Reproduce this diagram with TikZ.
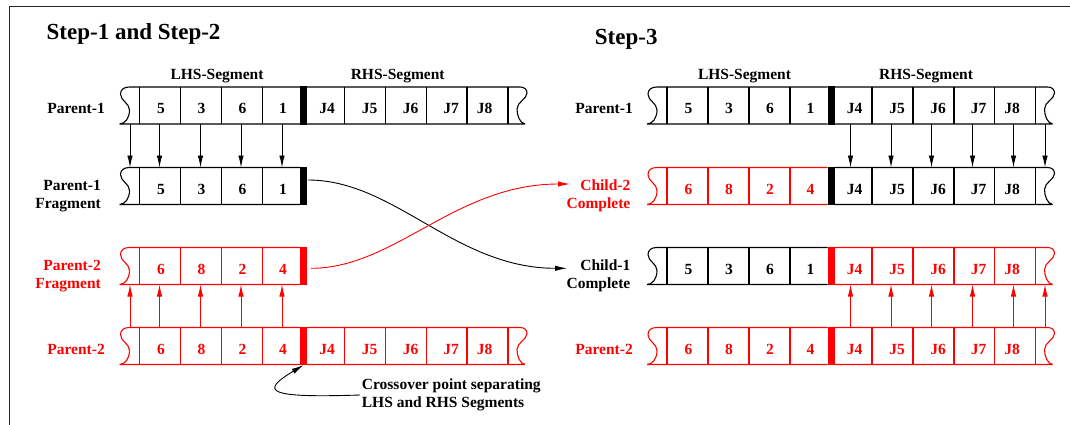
\documentclass[tikz,border=0pt]{standalone}
\usepackage{fontspec}
\setmainfont{Liberation Serif}
\usetikzlibrary{arrows.meta}

% Left half of a chromosome strip: torn left edge, four gene cells and the
% crossover bar.  #1 name, #2 line/text colour, #3 bar colour, #4-#7 genes
\newcommand\lhsband[7]{%
  \draw[band,#2] (129.5,0) -- (300,0) (119.5,37) -- (300,37)
    (129.5,0) .. controls (124,0) and (120.5,2.5) .. (120.5,7)
              .. controls (120.5,14) and (129.5,16) .. (129.5,23)
              .. controls (129.5,31) and (125,37) .. (119.5,37);
  \foreach \x in {139.5,180.5,221.5,262.5} \draw[band,#2] (\x,0) -- (\x,37);
  \fill[#3] (300,-0.55) rectangle (307,37.55);
  \node[cellnum,#2] (#1-g1) at (161,26.5) {#4};
  \node[cellnum,#2] (#1-g2) at (201.5,26.5) {#5};
  \node[cellnum,#2] (#1-g3) at (242.5,26.5) {#6};
  \node[cellnum,#2] (#1-g4) at (283,26.5) {#7};
  \coordinate (#1-barbot) at (303.5,37.6);
  \foreach \x [count=\i from 0] in {130,159.5,200.5,241,282}
    {\coordinate (#1-t\i) at (\x,0); \coordinate (#1-b\i) at (\x,37);}
}

% Right half of a chromosome strip: genes J4..J8 and torn right edge.
% #1 name, #2 line/text colour
\newcommand\rhsband[2]{%
  \draw[band,#2] (307,0) -- (520,0) (307,37) -- (525,37)
    (520,0) .. controls (524.5,0) and (527,2.5) .. (527,6)
            .. controls (527,12) and (517,15) .. (517,22)
            .. controls (517,29) and (520,36) .. (525,37);
  \foreach \x in {344.5,385.5,426.5,467,508} \draw[band,#2] (\x,0) -- (\x,37);
  \node[cellnum,#2] (#1-j4) at (327,26.5) {J4};
  \node[cellnum,#2] (#1-j5) at (369.5,26.5) {J5};
  \node[cellnum,#2] (#1-j6) at (410.5,26.5) {J6};
  \node[cellnum,#2] (#1-j7) at (451,26.5) {J7};
  \node[cellnum,#2] (#1-j8) at (484.5,26.5) {J8};
  \foreach \x [count=\i from 5] in {323,363.5,404,445,486,517.5}
    {\coordinate (#1-t\i) at (\x,0); \coordinate (#1-b\i) at (\x,37);}
}

\begin{document}
\begin{tikzpicture}[x=1pt,y=-1pt,
  band/.style={line width=1.1pt},
  tag/.style={font=\fontsize{15.5}{18}\selectfont\bfseries, inner sep=0pt},
  cellnum/.style={tag, anchor=base},
  rowlabel/.style={tag, anchor=base east, align=right},
  heading/.style={font=\fontsize{23}{27}\selectfont\bfseries, inner sep=0pt, anchor=base west},
  copyarrow/.style={line width=0.9pt, -{Latex[length=12pt,width=5.5pt]}},
  swaparrow/.style={line width=0.9pt, -{Latex[length=12pt,width=5.5pt]}},
]
\useasboundingbox (0,0) rectangle (1070,425);

% frame
\draw[black!85, line width=1.2pt] (9.3,425) -- (9.3,6.2) -- (1070,6.2);

% headings
\node[heading] (h12) at (46.5,39.5) {Step-1 and Step-2};
\node[heading] (h3) at (594.7,45) {Step-3};
\node[cellnum] (lhsL) at (217,79.5) {LHS-Segment};
\node[cellnum] (rhsL) at (397.7,79.5) {RHS-Segment};
\node[cellnum] (lhsR) at (744.5,79.5) {LHS-Segment};
\node[cellnum] (rhsR) at (926,79.5) {RHS-Segment};

% step 1 and step 2
\begin{scope}[shift={(0,87)}]
  \lhsband{pa}{black}{black}{5}{3}{6}{1}\rhsband{pa}{black}
\end{scope}
\begin{scope}[shift={(0,167.5)}]
  \lhsband{fa}{black}{black}{5}{3}{6}{1}
\end{scope}
\begin{scope}[shift={(0,247.5)}]
  \lhsband{fb}{red}{red}{6}{8}{2}{4}
\end{scope}
\begin{scope}[shift={(0,327.5)}]
  \lhsband{pb}{red}{red}{6}{8}{2}{4}\rhsband{pb}{red}
\end{scope}

% step 3
\begin{scope}[shift={(527.5,87)}]
  \lhsband{qa}{black}{black}{5}{3}{6}{1}\rhsband{qa}{black}
\end{scope}
\begin{scope}[shift={(527.5,167.5)}]
  \lhsband{cb}{red}{black}{6}{8}{2}{4}\rhsband{cb}{black}
\end{scope}
\begin{scope}[shift={(527.5,247.5)}]
  \lhsband{ca}{black}{red}{5}{3}{6}{1}\rhsband{ca}{red}
\end{scope}
\begin{scope}[shift={(527.5,327.5)}]
  \lhsband{qb}{red}{red}{6}{8}{2}{4}\rhsband{qb}{red}
\end{scope}

% row labels (the base anchor of a two-line label sits on its second line)
\node[rowlabel] (lab-pa) at (105,113.5) {Parent-1};
\node[rowlabel] (lab-fa) at (101,208.5) {Parent-1\\Fragment};
\node[rowlabel,red] (lab-fb) at (101,288) {Parent-2\\Fragment};
\node[rowlabel,red] (lab-pb) at (105,354.5) {Parent-2};
\node[rowlabel] (lab-qa) at (633,113.5) {Parent-1};
\node[rowlabel,red] (lab-cb) at (630.5,208.5) {Child-2\\Complete};
\node[rowlabel] (lab-ca) at (630.5,288.5) {Child-1\\Complete};
\node[rowlabel,red] (lab-qb) at (633,354.5) {Parent-2};

% copied genes
\foreach \i in {0,...,4} \draw[copyarrow] (pa-b\i) -- (fa-t\i);
\foreach \i in {0,...,4} \draw[copyarrow,red] (pb-t\i) -- (fb-b\i);
\foreach \i in {5,...,10} \draw[copyarrow] (qa-b\i) -- (cb-t\i);
\foreach \i in {5,...,10} \draw[copyarrow,red] (qb-t\i) -- (ca-b\i);

% fragments exchanged between the parents
\coordinate (fa-out) at (308,180);
\coordinate (fb-out) at (311,268.3);
\coordinate (cb-in) at (570,184);
\coordinate (ca-in) at (567,268.3);
\draw[swaparrow] (fa-out) .. controls +(87,0) and +(-112,0) .. (ca-in);
\draw[swaparrow,red] (fb-out) .. controls +(84,0) and +(-115,0) .. (cb-in);

% crossover point note
\node[tag, anchor=base west, align=left] (note) at (361.7,407.3)
  {Crossover point separating\\LHS and RHS Segments};
\coordinate (note-in) at (360,395);
\draw[swaparrow] (note-in) .. controls +(-92,3) and +(-45,27) .. (pb-barbot);
\end{tikzpicture}
\end{document}
